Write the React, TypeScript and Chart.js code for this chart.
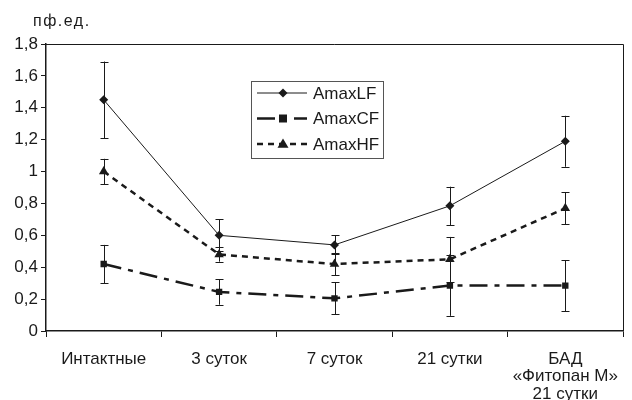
import React, { useEffect, useRef } from "react";
import { Chart, registerables } from "chart.js";

Chart.register(...registerables);

const categories: (string | string[])[] = [
  "Интактные",
  "3 суток",
  "7 суток",
  "21 сутки",
  ["БАД", "«Фитопан М»", "21 сутки"],
];

const amaxLF = [1.45, 0.6, 0.54, 0.785, 1.19];
const amaxLFErr = [0.24, 0.1, 0.06, 0.12, 0.16];
const amaxCF = [0.42, 0.245, 0.205, 0.285, 0.285];
const amaxCFErr = [0.12, 0.08, 0.1, 0.19, 0.16];
const amaxHF = [1.0, 0.48, 0.42, 0.45, 0.77];
const amaxHFErr = [0.08, 0.045, 0.07, 0.14, 0.1];

const seriesNames = ["AmaxLF", "AmaxCF", "AmaxHF"];
const yUnit = "пф.ед.";
const yMin = 0;
const yMax = 1.8;
const yStep = 0.2;

const INK = "#1a1a1a";
const FONT = "'Liberation Sans', Arial, sans-serif";

const dashes = [[], [18, 7, 5, 7], [6, 5]];
const widths = [1, 2.5, 2.5];
const markers = ["rectRot", "rect", "triangle"];

function drawMarker(ctx: CanvasRenderingContext2D, kind: string, x: number, y: number) {
  ctx.save();
  ctx.setLineDash([]);
  ctx.fillStyle = INK;
  ctx.beginPath();
  if (kind === "rectRot") {
    const r = 4.5;
    ctx.moveTo(x, y - r);
    ctx.lineTo(x + r, y);
    ctx.lineTo(x, y + r);
    ctx.lineTo(x - r, y);
  } else if (kind === "rect") {
    const r = 4;
    ctx.rect(x - r, y - r, 2 * r, 2 * r);
  } else {
    const r = 5.5;
    ctx.moveTo(x, y - r);
    ctx.lineTo(x + r, y + r * 0.7);
    ctx.lineTo(x - r, y + r * 0.7);
  }
  ctx.closePath();
  ctx.fill();
  ctx.restore();
}

const errors = [amaxLFErr, amaxCFErr, amaxHFErr];

const decorPlugin = {
  id: "decor",
  afterDatasetsDraw(chart: any) {
    const ctx: CanvasRenderingContext2D = chart.ctx;
    const yScale = chart.scales.y;
    ctx.save();
    ctx.strokeStyle = INK;
    ctx.lineWidth = 1;
    ctx.setLineDash([]);
    chart.data.datasets.forEach((ds: any, di: number) => {
      const meta = chart.getDatasetMeta(di);
      meta.data.forEach((pt: any, i: number) => {
        const v = ds.data[i];
        const e = errors[di][i];
        const x = Math.round(pt.x) + 0.5;
        const y1 = yScale.getPixelForValue(v + e);
        const y2 = yScale.getPixelForValue(v - e);
        ctx.beginPath();
        ctx.moveTo(x, y1);
        ctx.lineTo(x, y2);
        ctx.moveTo(x - 4, Math.round(y1) + 0.5);
        ctx.lineTo(x + 4, Math.round(y1) + 0.5);
        ctx.moveTo(x - 4, Math.round(y2) + 0.5);
        ctx.lineTo(x + 4, Math.round(y2) + 0.5);
        ctx.stroke();
      });
    });
    ctx.restore();
  },
  afterDraw(chart: any) {
    const ctx: CanvasRenderingContext2D = chart.ctx;
    const a = chart.chartArea;
    ctx.save();
    // frame
    ctx.strokeStyle = INK;
    ctx.lineWidth = 1;
    ctx.beginPath();
    ctx.moveTo(a.left, Math.round(a.top) + 0.5);
    ctx.lineTo(Math.round(a.right) + 0.5, Math.round(a.top) + 0.5);
    ctx.lineTo(Math.round(a.right) + 0.5, a.bottom);
    ctx.stroke();
    // unit label
    ctx.fillStyle = INK;
    ctx.font = `16px ${FONT}`;
    (ctx as any).letterSpacing = "1.5px";
    ctx.textAlign = "left";
    ctx.textBaseline = "middle";
    ctx.fillText(yUnit, 33, 22);
    (ctx as any).letterSpacing = "0px";
    // legend
    const lx = a.left + 205;
    const ly = a.top + 37;
    const lw = 132;
    const lh = 77;
    ctx.fillStyle = "#fff";
    ctx.fillRect(lx, ly, lw, lh);
    ctx.strokeStyle = "#555";
    ctx.lineWidth = 1;
    ctx.strokeRect(Math.round(lx) + 0.5, Math.round(ly) + 0.5, lw, lh);
    seriesNames.forEach((name, i) => {
      const cy = ly + 12 + i * 25.5;
      ctx.save();
      ctx.strokeStyle = INK;
      ctx.lineWidth = widths[i];
      ctx.setLineDash(dashes[i]);
      ctx.beginPath();
      ctx.moveTo(lx + 6, cy);
      ctx.lineTo(lx + 56, cy);
      ctx.stroke();
      ctx.restore();
      drawMarker(ctx, markers[i], lx + 32, cy);
      ctx.fillStyle = INK;
      ctx.font = `17px ${FONT}`;
      ctx.textAlign = "left";
      ctx.textBaseline = "middle";
      ctx.fillText(name, lx + 62, cy + 1);
    });
    ctx.restore();
  },
};

export default function App() {
  const ref = useRef<HTMLCanvasElement | null>(null);
  useEffect(() => {
    if (!ref.current) return;
    const series = [amaxLF, amaxCF, amaxHF];
    const chart = new Chart(ref.current, {
      type: "line",
      data: {
        labels: categories,
        datasets: series.map((d, i) => ({
          label: seriesNames[i],
          data: d,
          borderColor: INK,
          backgroundColor: INK,
          borderWidth: widths[i],
          borderDash: dashes[i],
          pointStyle: markers[i] as any,
          pointRadius: i === 0 ? 4.5 : i === 1 ? 4.5 : 5.5,
          pointBorderWidth: 0,
          pointBackgroundColor: INK,
          tension: 0,
          fill: false,
        })),
      },
      options: {
        responsive: true,
        maintainAspectRatio: false,
        animation: false,
        layout: { padding: { left: 0, top: 44, right: 9, bottom: 0 } },
        plugins: {
          legend: { display: false },
          tooltip: { enabled: false },
        },
        scales: {
          x: {
            offset: true,
            grid: {
              offset: true,
              drawOnChartArea: false,
              tickLength: 6,
              color: INK,
            },
            border: { color: INK, width: 1.5 },
            ticks: {
              color: INK,
              font: { family: FONT, size: 17, lineHeight: 1.05 },
              padding: 13,
              maxRotation: 0,
              autoSkip: false,
            },
            afterFit: (s: any) => {
              s.height = 69;
            },
          },
          y: {
            min: yMin,
            max: yMax,
            grid: {
              drawOnChartArea: false,
              tickLength: 5,
              color: INK,
            },
            border: { color: INK, width: 1.5 },
            ticks: {
              stepSize: yStep,
              color: INK,
              padding: 3,
              font: { family: FONT, size: 17 },
              callback: (v: any) => String(Math.round(Number(v) * 10) / 10).replace(".", ","),
            },
            afterFit: (s: any) => {
              s.width = 46;
            },
          },
        },
      },
      plugins: [decorPlugin],
    });
    return () => chart.destroy();
  }, []);
  return (
    <div style={{ position: "fixed", left: 0, top: 0, width: 632, height: 400, background: "#fff" }}>
      <canvas ref={ref} />
    </div>
  );
}
